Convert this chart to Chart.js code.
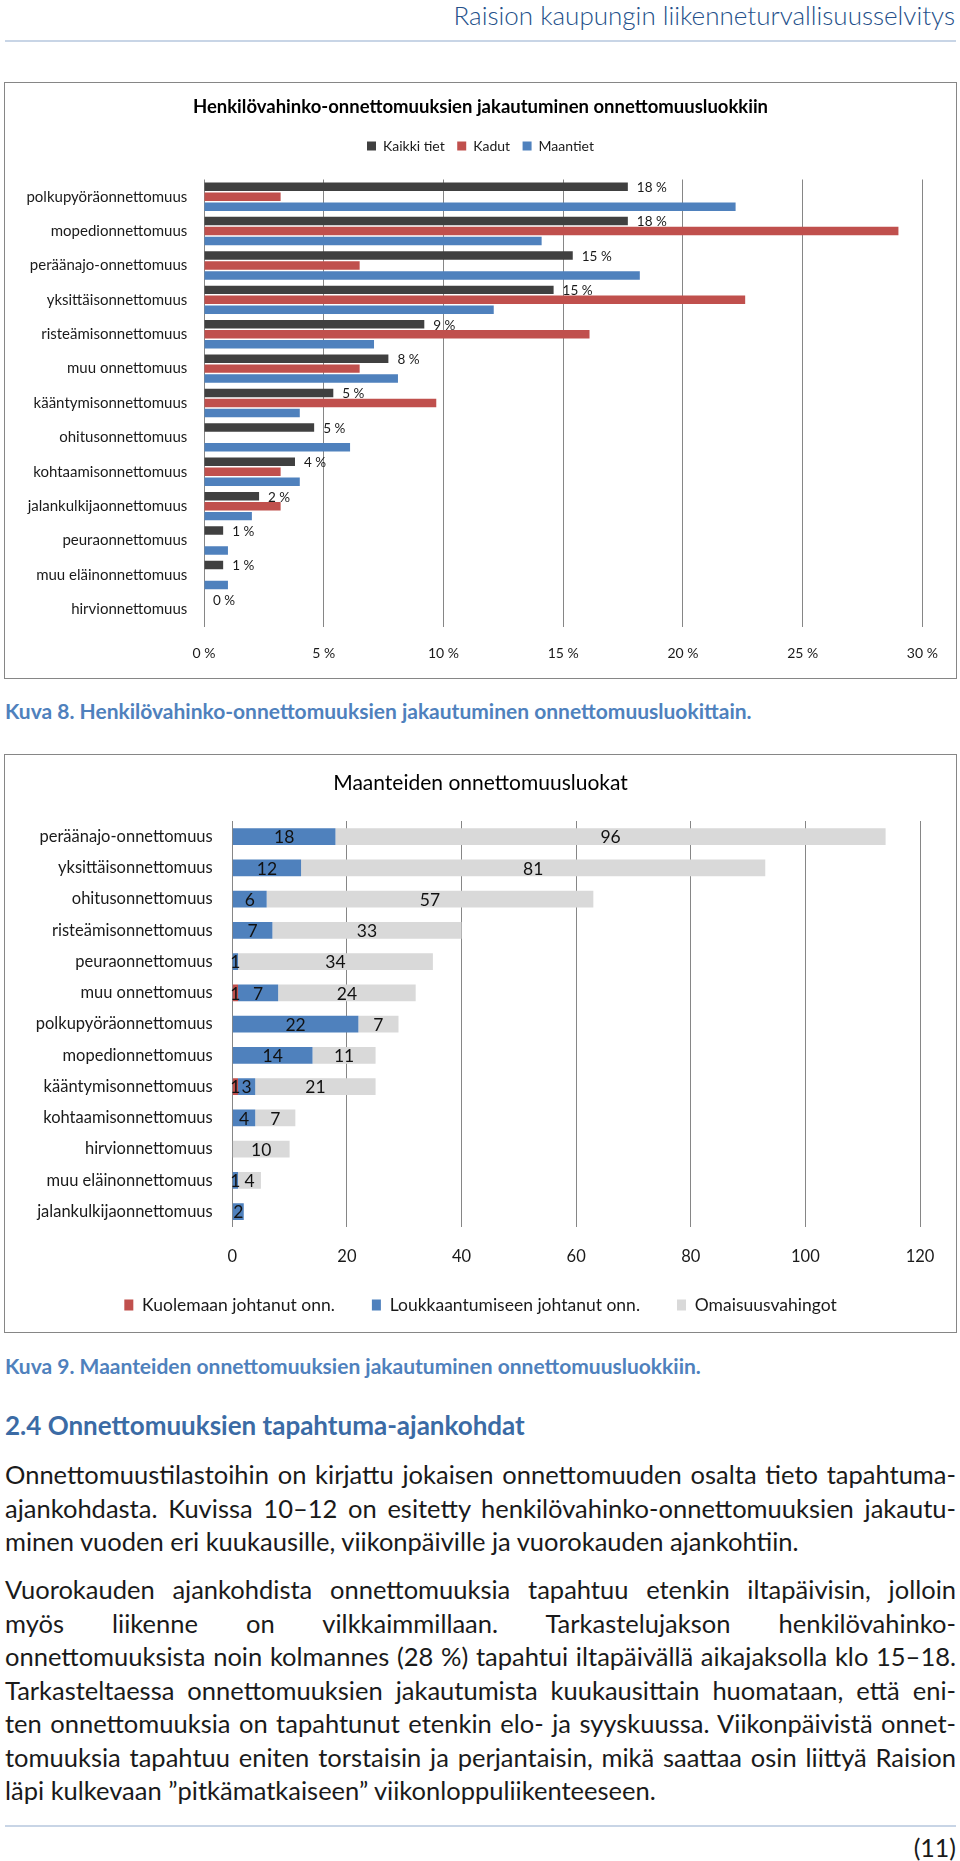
<!DOCTYPE html>
<html lang="fi">
<head>
<meta charset="utf-8">
<title>Raision kaupungin liikenneturvallisuusselvitys</title>
<script src="https://cdn.jsdelivr.net/npm/chart.js@4.4.1/dist/chart.umd.min.js"></script>
<style>
  html, body { margin: 0; padding: 0; background: #fff; }
  body { width: 960px; height: 1861px; position: relative; overflow: hidden;
         font-family: Lato, "Open Sans", sans-serif; color: #1a1a1a; }
  .abs { position: absolute; }
  .header { right: 5px; top: 0; line-height: 30px; font-size: 26px; font-weight: 300; color: #24508A; }
  .rule { left: 5px; width: 951px; height: 2px; background: #c8d5e6; }
  .box { border: 1.5px solid #868686; box-sizing: border-box; }
  .wrap { width: 951px; }
  .caption { left: 5px; font-weight: 700; font-size: 21px; line-height: 26px; color: #4F81BD; }
  .heading { left: 5px; top: 1409px; font-weight: 700; font-size: 26px; line-height: 32px; color: #3B6BA5; }
  .para { left: 5px; width: 951px; font-size: 25.5px; line-height: 33.5px; }
  .jl { text-align: justify; text-align-last: justify; }
  .page { right: 4px; top: 1832px; font-size: 25px; line-height: 30px; }
</style>
</head>
<body>

<div class="abs header">Raision kaupungin liikenneturvallisuusselvitys</div>
<div class="abs rule" style="top:40px"></div>

<div class="abs box" style="left:4px; top:82px; width:953px; height:597px"></div>
<div class="abs wrap" style="left:5px; top:83px; height:595px"><canvas id="luokatChart"></canvas></div>
<div class="abs caption" style="top:698px">Kuva 8. Henkilövahinko-onnettomuuksien jakautuminen onnettomuusluokittain.</div>

<div class="abs box" style="left:4px; top:754px; width:953px; height:579px"></div>
<div class="abs wrap" style="left:5px; top:755px; height:577px"><canvas id="maantieChart"></canvas></div>
<div class="abs caption" style="top:1353px">Kuva 9. Maanteiden onnettomuuksien jakautuminen onnettomuusluokkiin.</div>

<div class="abs heading">2.4 Onnettomuuksien tapahtuma-ajankohdat</div>

<div class="abs para" style="top:1458px">
  <div class="jl">Onnettomuustilastoihin on kirjattu jokaisen onnettomuuden osalta tieto tapahtuma-</div>
  <div class="jl">ajankohdasta. Kuvissa 10–12 on esitetty henkilövahinko-onnettomuuksien jakautu-</div>
  <div>minen vuoden eri kuukausille, viikonpäiville ja vuorokauden ajankohtiin.</div>
</div>
<div class="abs para" style="top:1573px">
  <div class="jl">Vuorokauden ajankohdista onnettomuuksia tapahtuu etenkin iltapäivisin, jolloin</div>
  <div class="jl">myös liikenne on vilkkaimmillaan. Tarkastelujakson henkilövahinko-</div>
  <div class="jl">onnettomuuksista noin kolmannes (28 %) tapahtui iltapäivällä aikajaksolla klo 15–18.</div>
  <div class="jl">Tarkasteltaessa onnettomuuksien jakautumista kuukausittain huomataan, että eni-</div>
  <div class="jl">ten onnettomuuksia on tapahtunut etenkin elo- ja syyskuussa. Viikonpäivistä onnet-</div>
  <div class="jl">tomuuksia tapahtuu eniten torstaisin ja perjantaisin, mikä saattaa osin liittyä Raision</div>
  <div>läpi kulkevaan ”pitkämatkaiseen” viikonloppuliikenteeseen.</div>
</div>

<div class="abs rule" style="top:1825px"></div>
<div class="abs page">(11)</div>

<script>
// Kuva 8 - henkilövahinko-onnettomuudet, osuus luokittain (%)
const luokat1 = ['polkupyöräonnettomuus', 'mopedionnettomuus', 'peräänajo-onnettomuus', 'yksittäisonnettomuus',
    'risteämisonnettomuus', 'muu onnettomuus', 'kääntymisonnettomuus', 'ohitusonnettomuus', 'kohtaamisonnettomuus',
    'jalankulkijaonnettomuus', 'peuraonnettomuus', 'muu eläinonnettomuus', 'hirvionnettomuus'];
const kaikkiTiet = [17.7, 17.7, 15.4, 14.6, 9.2, 7.7, 5.4, 4.6, 3.8, 2.3, 0.8, 0.8, 0];
const kadut = [3.2, 29.0, 6.5, 22.6, 16.1, 6.5, 9.7, 0, 3.2, 3.2, 0, 0, 0];
const maantiet = [22.2, 14.1, 18.2, 12.1, 7.1, 8.1, 4.0, 6.1, 4.0, 2.0, 1.0, 1.0, 0];
const prosenttiTicks = [0, 5, 10, 15, 20, 25, 30];

// Kuva 9 - maanteiden onnettomuudet (kpl)
const luokat2 = ['peräänajo-onnettomuus', 'yksittäisonnettomuus', 'ohitusonnettomuus', 'risteämisonnettomuus',
    'peuraonnettomuus', 'muu onnettomuus', 'polkupyöräonnettomuus', 'mopedionnettomuus', 'kääntymisonnettomuus',
    'kohtaamisonnettomuus', 'hirvionnettomuus', 'muu eläinonnettomuus', 'jalankulkijaonnettomuus'];
const kuolemaan = [0, 0, 0, 0, 0, 1, 0, 0, 1, 0, 0, 0, 0];
const loukkaantumiseen = [18, 12, 6, 7, 1, 7, 22, 14, 3, 4, 0, 1, 2];
const omaisuusvahingot = [96, 81, 57, 33, 34, 24, 7, 11, 21, 7, 10, 4, 0];
const lukumaaraTicks = [0, 20, 40, 60, 80, 100, 120];

Chart.defaults.font.family = 'Lato, "Open Sans", sans-serif';
Chart.defaults.color = '#1a1a1a';

// value labels next to / inside the bars
const barLabels = {
    id: 'barLabels',
    afterDatasetsDraw(chart, args, opts) {
        const ctx = chart.ctx;
        ctx.save();
        ctx.font = opts.size + 'px Lato, "Open Sans", sans-serif';
        ctx.fillStyle = opts.color;
        ctx.textBaseline = 'middle';
        chart.data.datasets.forEach((ds, i) => {
            if (opts.dataset !== undefined && opts.dataset !== i) return;
            chart.getDatasetMeta(i).data.forEach((bar, j) => {
                const v = ds.data[j];
                if (opts.inside) {
                    if (!v) return;
                    const p = bar.getCenterPoint();
                    ctx.textAlign = 'center';
                    ctx.fillText(String(v), p.x, p.y + 1);
                } else {
                    ctx.textAlign = 'left';
                    ctx.fillText(Math.round(v) + ' %', bar.x + opts.offset, bar.y + 1);
                }
            });
        });
        ctx.restore();
    }
};

// gaps between legend items come from trailing spaces, so the legend stays centred
const spacedLabels = gap => chart => Chart.defaults.plugins.legend.labels.generateLabels(chart)
    .map((item, i, all) => Object.assign(item, { text: i < all.length - 1 ? item.text + gap : item.text }));

// empty axis on the right, only keeps space free at the right edge of the plot
const rightSpace = width => ({
    type: 'category',
    axis: 'y',
    position: 'right',
    grid: { display: false, drawTicks: false },
    border: { display: false },
    ticks: { display: false },
    afterFit: axis => { axis.width = width; }
});

new Chart(document.getElementById('luokatChart'), {
    type: 'bar',
    data: {
        labels: luokat1,
        datasets: [
            { label: 'Kaikki tiet', data: kaikkiTiet, backgroundColor: '#404040', categoryPercentage: 0.87, barPercentage: 0.85 },
            { label: 'Kadut', data: kadut, backgroundColor: '#C0504D', categoryPercentage: 0.87, barPercentage: 0.85 },
            { label: 'Maantiet', data: maantiet, backgroundColor: '#4F81BD', categoryPercentage: 0.87, barPercentage: 0.85 }
        ]
    },
    options: {
        indexAxis: 'y',
        responsive: true,
        maintainAspectRatio: false,
        animation: false,
        layout: { padding: 0 },
        scales: {
            x: {
                min: 0,
                max: 30,
                afterBuildTicks: axis => { axis.ticks = prosenttiTicks.map(v => ({ value: v })); },
                afterFit: axis => { axis.height = 51.5; },
                grid: { color: '#868686', drawTicks: false },
                border: { display: false },
                ticks: { padding: 18.1, maxRotation: 0, font: { size: 14 }, callback: v => v + ' %' }
            },
            y: {
                afterFit: axis => { axis.width = 199; },
                grid: { display: false, drawTicks: false },
                border: { display: false },
                ticks: { padding: 16.7, autoSkip: false, font: { size: 15 } }
            },
            yRight: rightSpace(33.5)
        },
        plugins: {
            title: {
                display: true,
                text: 'Henkilövahinko-onnettomuuksien jakautuminen onnettomuusluokkiin',
                color: '#000',
                font: { size: 18.5, weight: 'bold' },
                padding: { top: 12.9, bottom: 18.9 }
            },
            subtitle: {
                display: true,
                text: '',
                weight: 500,
                font: { size: 1, lineHeight: 1 },
                padding: { top: 0, bottom: 15.5 }
            },
            legend: {
                position: 'top',
                labels: { boxWidth: 9, boxHeight: 9, padding: 2, font: { size: 14 }, generateLabels: spacedLabels('\u2003') }
            },
            tooltip: { enabled: false },
            barLabels: { dataset: 0, inside: false, offset: 9, size: 13.5, color: '#1a1a1a' }
        }
    },
    plugins: [barLabels]
});

new Chart(document.getElementById('maantieChart'), {
    type: 'bar',
    data: {
        labels: luokat2,
        datasets: [
            { label: 'Kuolemaan johtanut onn.', data: kuolemaan, backgroundColor: '#C0504D', categoryPercentage: 0.97, barPercentage: 0.55 },
            { label: 'Loukkaantumiseen johtanut onn.', data: loukkaantumiseen, backgroundColor: '#4F81BD', categoryPercentage: 0.97, barPercentage: 0.55 },
            { label: 'Omaisuusvahingot', data: omaisuusvahingot, backgroundColor: '#D9D9D9', categoryPercentage: 0.97, barPercentage: 0.55 }
        ]
    },
    options: {
        indexAxis: 'y',
        responsive: true,
        maintainAspectRatio: false,
        animation: false,
        layout: { padding: { top: 0, right: 0, bottom: 8.25, left: 0 } },
        scales: {
            x: {
                stacked: true,
                min: 0,
                max: 120,
                afterBuildTicks: axis => { axis.ticks = lukumaaraTicks.map(v => ({ value: v })); },
                afterFit: axis => { axis.height = 66.95; },
                grid: { color: '#868686', drawTicks: false },
                border: { display: false },
                ticks: { padding: 19.5, maxRotation: 0, font: { size: 16.5 } }
            },
            y: {
                stacked: true,
                afterFit: axis => { axis.width = 227.3; },
                grid: { display: false, drawTicks: false },
                border: { display: false },
                ticks: { padding: 19.6, autoSkip: false, font: { size: 16.5 } }
            },
            yRight: rightSpace(36)
        },
        plugins: {
            title: {
                display: true,
                text: 'Maanteiden onnettomuusluokat',
                color: '#000',
                font: { size: 21, weight: 'normal' },
                padding: { top: 15.4, bottom: 25.4 }
            },
            legend: {
                position: 'bottom',
                labels: { boxWidth: 9, boxHeight: 11, padding: 2, font: { size: 17.5 }, generateLabels: spacedLabels('\u2003\u2003\u2002') }
            },
            tooltip: { enabled: false },
            barLabels: { inside: true, size: 17.5, color: '#111' }
        }
    },
    plugins: [barLabels]
});
</script>
</body>
</html>
